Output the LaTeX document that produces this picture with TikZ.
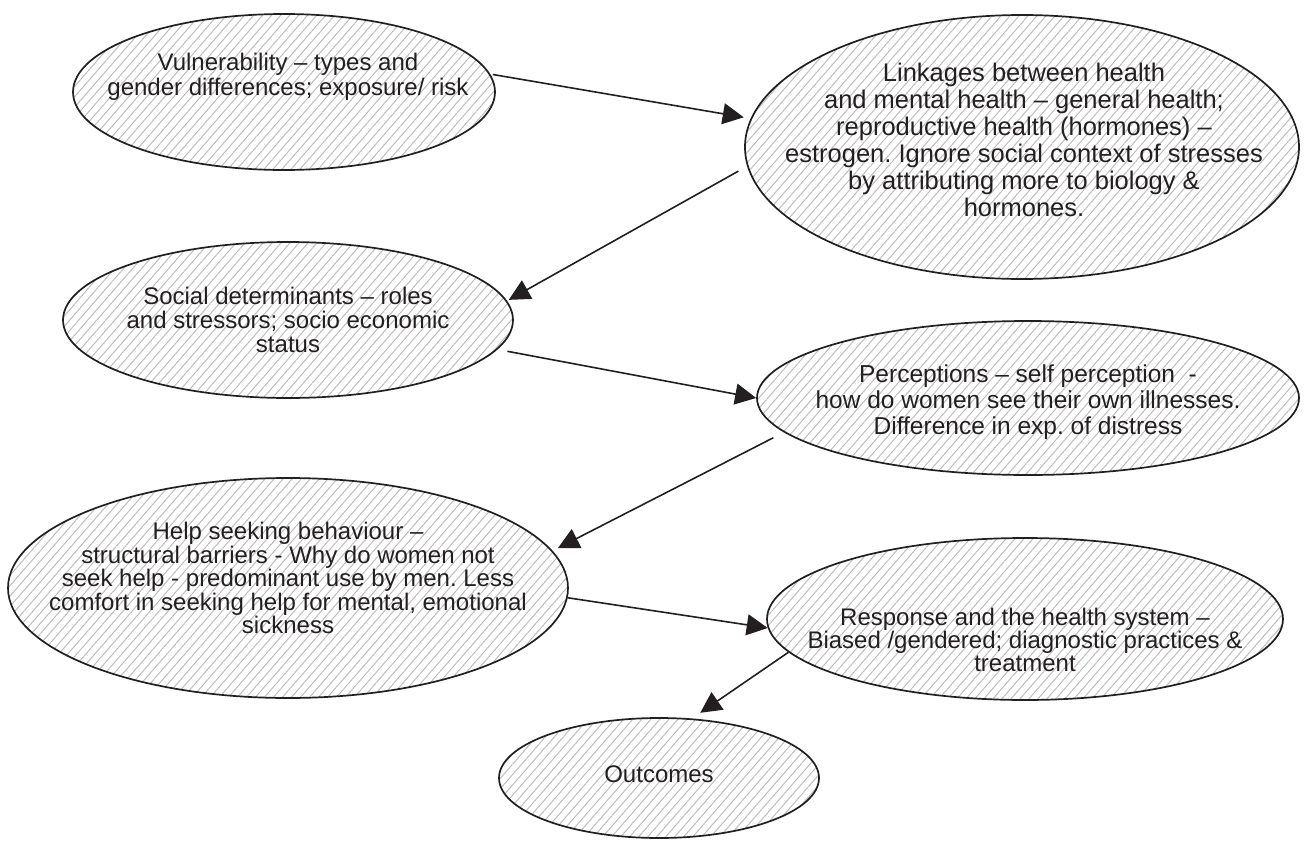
\documentclass[tikz,border=0pt]{standalone}
\usepackage{fontspec}
\setmainfont{Liberation Sans}
\usetikzlibrary{shapes.geometric,arrows.meta,patterns.meta}
\frenchspacing
\definecolor{ink}{HTML}{231F20}
\definecolor{hatch}{HTML}{BDBDBD}
\tikzset{
  topic/.style={ellipse, draw=ink, line width=1.7pt, inner sep=0pt,
    pattern={Lines[angle=49,distance=6.8pt,line width=1pt]}, pattern color=hatch},
  topictext/.style={align=center, text=ink, inner sep=0pt,
    font=\fontsize{24}{25}\selectfont},
  flow/.style={draw=ink, line width=1.6pt, -{Triangle[length=21pt,width=21pt]}},
}
\begin{document}
\begin{tikzpicture}[x=1pt,y=-1pt]
\useasboundingbox (0,0) rectangle (1307,846);

% topics
\node[topic, minimum width=422pt, minimum height=156pt] (vul)  at (284,92)  {};
\node[topic, minimum width=554pt, minimum height=264pt] (link) at (1022,147) {};
\node[topic, minimum width=450pt, minimum height=156pt] (soc)  at (288,320) {};
\node[topic, minimum width=542pt, minimum height=154pt] (perc) at (1028,398) {};
\node[topic, minimum width=560pt, minimum height=220pt] (help) at (288,588) {};
\node[topic, minimum width=516pt, minimum height=162pt] (resp) at (1025,619) {};
\node[topic, minimum width=320pt, minimum height=120pt] (out)  at (659,778) {};

% texts
\node[topictext] (vulT) at (288,77)
  {Vulnerability -- types and\\gender differences; exposure/ risk};
\node[topictext, font=\fontsize{25.5}{27}\selectfont] (linkT) at (1024,140)
  {Linkages between health\\and mental health -- general health;\\reproductive health (hormones) --\\estrogen. Ignore social context of stresses\\by attributing more to biology \&\\hormones.};
\node[topictext, font=\fontsize{24}{24}\selectfont] (socT) at (288,320)
  {Social determinants -- roles\\and stressors; socio economic\\status};
\node[topictext, font=\fontsize{24.5}{26}\selectfont] (percT) at (1028,402)
  {Perceptions -- self perception\ \ -\\how do women see their own illnesses.\\Difference in exp. of distress};
\node[topictext, font=\fontsize{24}{23.5}\selectfont] (helpT) at (288,578)
  {Help seeking behaviour --\\structural barriers - Why do women not\\seek help - predominant use by men. Less\\comfort in seeking help for mental, emotional\\sickness};
\node[topictext, font=\fontsize{24}{23}\selectfont] (respT) at (1025,640)
  {Response and the health system --\\Biased /gendered; diagnostic practices \&\\treatment};
\node[topictext] (outT) at (659,774) {Outcomes};

% flow between topics
\draw[flow, shorten <=3pt, shorten >=7pt] (vul.5) -- (link.174);
\draw[flow, shorten <=10pt, shorten >=2pt] (link.184) -- (soc.5);
\draw[flow, shorten <=10pt] (soc.352) -- (perc.180);
\draw[flow, shorten <=12pt, shorten >=6pt] (perc.188) -- (help.8);
\draw[flow] (help.358) -- (resp.182);
\draw[flow, shorten >=10pt] (resp.188) -- (out.61);
\end{tikzpicture}
\end{document}
